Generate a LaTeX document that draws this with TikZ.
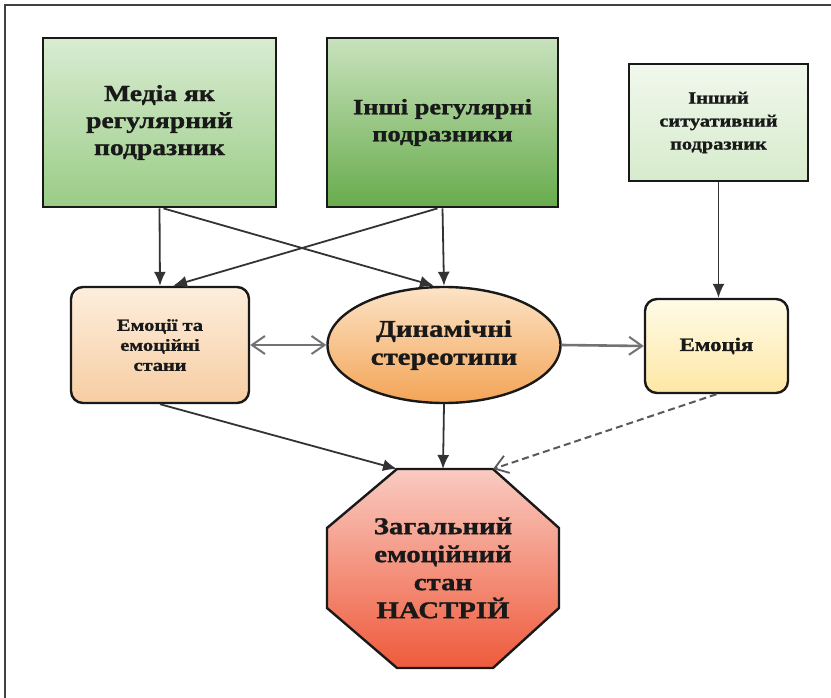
\documentclass[tikz,border=0pt]{standalone}
\usepackage{fontspec}
\setmainfont{Liberation Serif}[FakeStretch=1.2, BoldFeatures={FakeBold=1.2}]
\usetikzlibrary{shapes.geometric,arrows.meta}
\begin{document}
\begin{tikzpicture}[x=1pt,y=-1pt,
  box/.style={draw=black!90, line width=2.8pt, align=center, inner sep=0pt, text=black!90},
  rbox/.style={box, rounded corners=12pt, line width=2.4pt},
  sarrow/.style={draw=black!80, line width=1.8pt, -{Latex[length=14pt,width=12pt]}},
  oarrow/.style={draw=black!55, line width=2.6pt, -{Straight Barb[length=13pt,width=18pt,line width=2pt]}},
  darrow/.style={draw=black!55, line width=2.6pt, {Straight Barb[length=13pt,width=18pt,line width=2pt]}-{Straight Barb[length=13pt,width=18pt,line width=2pt]}},
]
\useasboundingbox (0,0) rectangle (831,698);
\draw[line width=2.2pt, black!75] (5,698) -- (5,5) -- (831,5);

% top row
\node[box, minimum width=233pt, minimum height=169pt, top color={rgb,255:red,217;green,236;blue,210}, bottom color={rgb,255:red,154;green,204;blue,134},
  font=\fontsize{23}{27}\selectfont\bfseries] (media) at (159.5,122.5) {Медіа як\\регулярний\\подразник};
\node[box, minimum width=231pt, minimum height=169pt, top color={rgb,255:red,200;green,226;blue,189}, bottom color={rgb,255:red,104;green,172;blue,76},
  font=\fontsize{22}{27}\selectfont\bfseries] (other) at (442.5,122.5) {Інші регулярні\\подразники};
\node[box, minimum width=179pt, minimum height=117pt, top color={rgb,255:red,241;green,248;blue,237}, bottom color={rgb,255:red,214;green,235;blue,204},
  font=\fontsize{17}{23}\selectfont\bfseries] (sit) at (718.5,122.5) {Інший\\ситуативний\\подразник};

% middle row
\node[rbox, minimum width=178pt, minimum height=116pt, top color={rgb,255:red,253;green,238;blue,221}, bottom color={rgb,255:red,247;green,205;blue,162},
  font=\fontsize{17}{20}\selectfont\bfseries] (emo) at (160,345) {Емоції та\\емоційні\\стани};
\node[ellipse, draw=black!90, line width=2.4pt, inner sep=0pt, align=center, minimum width=233pt, minimum height=116pt,
  top color={rgb,255:red,252;green,227;blue,198}, bottom color={rgb,255:red,243;green,164;blue,86},
  font=\fontsize{24}{28}\selectfont\bfseries, text=black!90] (dyn) at (444,345) {Динамічні\\стереотипи};
\node[rbox, minimum width=143pt, minimum height=94pt, top color={rgb,255:red,255;green,251;blue,232}, bottom color={rgb,255:red,253;green,231;blue,164},
  font=\fontsize{19}{22}\selectfont\bfseries] (emotion) at (716.5,346) {Емоція};

% octagon
\coordinate (o1) at (397,469);
\coordinate (o2) at (493,469);
\coordinate (o3) at (559,528);
\coordinate (o4) at (559,608);
\coordinate (o5) at (493,668);
\coordinate (o6) at (397,668);
\coordinate (o7) at (327,608);
\coordinate (o8) at (327,528);
\coordinate (otop) at (443,469);
\path[draw=black!90, line width=2.4pt, top color={rgb,255:red,249;green,203;blue,193}, bottom color={rgb,255:red,239;green,90;blue,60}]
  (o1) -- (o2) -- (o3) -- (o4) -- (o5) -- (o6) -- (o7) -- (o8) -- cycle;
\node[align=center, text=black!90, font=\fontsize{24}{28}\selectfont\bfseries] (mood) at (443,568) {Загальний\\емоційний\\стан\\НАСТРІЙ};

% connectors
\draw[sarrow] (media.south) -- (emo.north);
\draw[sarrow] ([xshift=4pt]media.south) -- ([xshift=-10pt]dyn.north);
\draw[sarrow] (other.south) -- (dyn.north);
\draw[sarrow] ([xshift=-5pt]other.south) -- ([xshift=13pt]emo.north);
\draw[sarrow] (sit.south) -- (sit.south |- emotion.north);
\draw[darrow] (emo.east) -- (dyn.west);
\draw[oarrow] (dyn.east) -- (emotion.west);
\draw[sarrow] (emo.south) -- (o1);
\draw[sarrow] (dyn.south) -- (otop);
\draw[draw=black!65, line width=2pt, dash pattern=on 7pt off 4pt, -{Straight Barb[length=13pt,width=18pt,line width=1.8pt]}] (emotion.south) -- (o2);
\end{tikzpicture}
\end{document}
